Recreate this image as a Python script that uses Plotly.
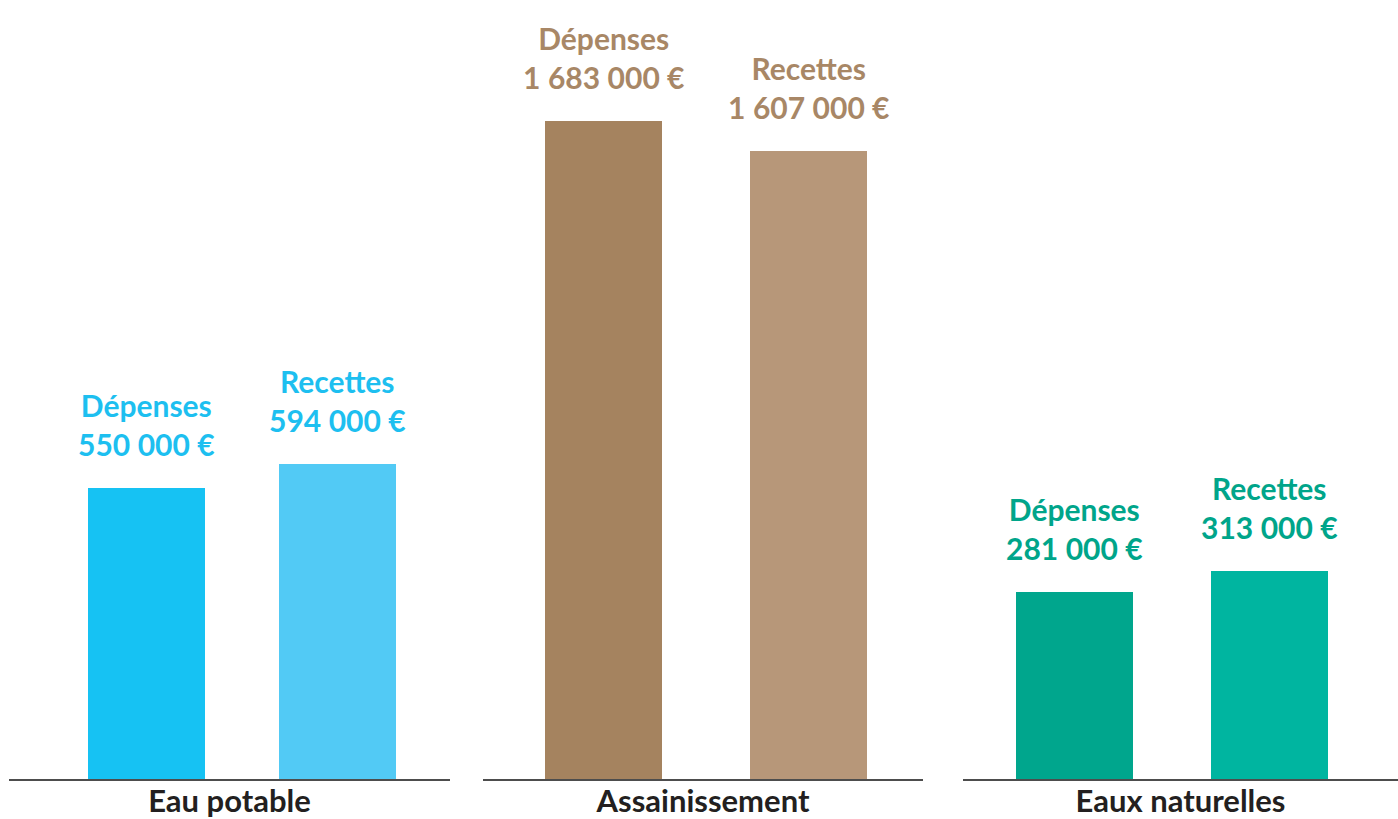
import plotly.graph_objects as go

# ---- data ----
groups = ["Eau potable", "Assainissement", "Eaux naturelles"]
kinds = ["Dépenses", "Recettes"]
depenses = [550000, 1683000, 281000]
recettes = [594000, 1607000, 313000]

# ---- style ----
W, H = 1398, 819
MB = 40
panel_px = [(9, 450), (483, 923), (963, 1398)]
bar_centers_px = [(146.5, 337.5), (603.5, 808.5), (1074.5, 1269.5)]
bar_px = 117
y_top = [1471000, 1993000, 1173000]
dep_colors = ["#16C2F3", "#A5835F", "#00A68D"]
rec_colors = ["#52CAF5", "#B79779", "#00B5A0"]
label_colors = ["#1DBFF0", "#A88766", "#00A58A"]
FONT = "Lato"


def fmt(v):
    return f"{v:,}".replace(",", "\u2005") + "\u00a0€"


fig = go.Figure()
annotations = []
for i, g in enumerate(groups):
    sfx = "" if i == 0 else str(i + 1)
    left, right = panel_px[i]
    c0, c1 = bar_centers_px[i]
    sp = c1 - c0
    vals = [depenses[i], recettes[i]]
    fig.add_trace(go.Bar(
        x=kinds, y=vals,
        marker=dict(color=[dep_colors[i], rec_colors[i]], line=dict(width=0)),
        width=bar_px / sp,
        xaxis="x" + sfx, yaxis="y" + sfx,
        showlegend=False, hoverinfo="x+y",
    ))
    fig.update_layout(**{
        "xaxis" + sfx: dict(
            domain=[left / W, right / W],
            range=[-(c0 - left) / sp, 1 + (right - c1) / sp],
            anchor="y" + sfx,
            showline=True, linecolor="#4d4d4d", linewidth=1.5,
            showgrid=False, zeroline=False, ticks="", showticklabels=False,
            fixedrange=True,
            title=dict(text=g, standoff=12,
                       font=dict(family=FONT, size=31, color="#231F20", weight=700)),
        ),
        "yaxis" + sfx: dict(
            domain=[0, 1], range=[0, y_top[i]], anchor="x" + sfx,
            visible=False, fixedrange=True,
        ),
    })
    for k, v in zip(kinds, vals):
        annotations.append(dict(
            xref="x" + sfx, yref="y" + sfx, x=k, y=v,
            text=f"{k}<br>{fmt(v)}", showarrow=False,
            yanchor="bottom", xanchor="center", yshift=24,
            font=dict(family=FONT, size=30, color=label_colors[i], weight=700),
        ))

fig.update_layout(
    width=W, height=H,
    margin=dict(l=0, r=0, t=0, b=MB, autoexpand=False),
    paper_bgcolor="white", plot_bgcolor="white",
    annotations=annotations,
    bargap=0,
)
fig.write_html(
    "out.html",
    config={"displayModeBar": False},
    post_script="document.body.style.margin='0';document.body.style.overflow='hidden';",
)
